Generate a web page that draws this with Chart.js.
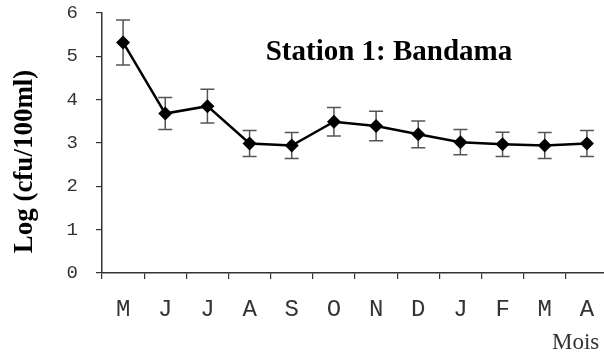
<!DOCTYPE html>
<html>
<head>
<meta charset="utf-8">
<script src="https://cdn.jsdelivr.net/npm/chart.js@4/dist/chart.umd.min.js"></script>
<style>
html,body{margin:0;padding:0;background:#fff;overflow:hidden;}
#wrap{width:608px;height:354px;position:relative;}
</style>
</head>
<body>
<div id="wrap"><canvas id="c"></canvas></div>
<script>
const months = ['M','J','J','A','S','O','N','D','J','F','M','A'];
const means  = [5.32,3.68,3.85,2.99,2.94,3.49,3.39,3.20,3.02,2.97,2.94,2.99];
const errors = [0.52,0.37,0.39,0.30,0.30,0.33,0.34,0.31,0.29,0.28,0.30,0.30];
const yTicks = [0,1,2,3,4,5,6];
const titleText = 'Station 1: Bandama';
const yLabel = 'Log (cfu/100ml)';
const xLabel = 'Mois';

const errorBars = {
  id:'errorBars',
  beforeDatasetsDraw(chart){
    const ctx = chart.ctx, meta = chart.getDatasetMeta(0), y = chart.scales.y;
    ctx.save();
    ctx.strokeStyle = '#555';
    ctx.lineWidth = 1.5;
    meta.data.forEach((pt,i)=>{
      const x = pt.x;
      const yt = y.getPixelForValue(means[i]+errors[i]);
      const yb = y.getPixelForValue(means[i]-errors[i]);
      ctx.beginPath();
      ctx.moveTo(x,yt); ctx.lineTo(x,yb);
      ctx.moveTo(x-7,yt); ctx.lineTo(x+7,yt);
      ctx.moveTo(x-7,yb); ctx.lineTo(x+7,yb);
      ctx.stroke();
    });
    ctx.restore();
  }
};

const texts = {
  id:'texts',
  afterDraw(chart){
    const ctx = chart.ctx;
    ctx.save();
    ctx.fillStyle = '#000';
    ctx.font = 'bold 29px "Liberation Serif"';
    ctx.textAlign = 'center';
    ctx.textBaseline = 'alphabetic';
    ctx.fillText(titleText, 389, 60);
    ctx.save();
    ctx.translate(32,161.5);
    ctx.rotate(-Math.PI/2);
    ctx.font = 'bold 27px "Liberation Serif"';
    ctx.fillText(yLabel,0,0);
    ctx.restore();
    ctx.font = '23px "Liberation Serif"';
    ctx.fillStyle = '#333';
    ctx.textAlign = 'left';
    ctx.fillText(xLabel, 552, 349);
    ctx.restore();
  }
};

new Chart(document.getElementById('c'), {
  type:'line',
  data:{
    labels: months,
    datasets:[{
      data: means,
      borderColor:'#000',
      borderWidth:2.5,
      pointStyle:'rectRot',
      pointRadius:7,
      pointBackgroundColor:'#000',
      pointBorderColor:'#000',
      pointBorderWidth:0,
      tension:0,
      fill:false
    }]
  },
  options:{
    responsive:true,
    maintainAspectRatio:false,
    animation:false,
    devicePixelRatio:1,
    layout:{autoPadding:false,padding:{top:13,right:0,left:0,bottom:0}},
    plugins:{legend:{display:false},tooltip:{enabled:false},title:{display:false}},
    scales:{
      x:{
        offset:true,
        afterFit(s){ s.height = 81; s.paddingLeft = 0; s.paddingRight = 0; },
        grid:{offset:true,drawOnChartArea:false,tickLength:6,color:'#333',lineWidth:1.2},
        border:{color:'#333',width:1.5},
        ticks:{color:'#333',font:{family:'"Liberation Mono"',size:24},padding:16,maxRotation:0,autoSkip:false}
      },
      y:{
        min:0,max:6,
        afterFit(s){ s.width = 102; s.paddingTop = 0; s.paddingBottom = 0; },
        afterBuildTicks(s){ s.ticks = yTicks.map(v=>({value:v})); },
        grid:{drawOnChartArea:false,tickLength:6,color:'#333',lineWidth:1.2},
        border:{color:'#333',width:1.5},
        ticks:{color:'#333',font:{family:'"Liberation Mono"',size:19},padding:18}
      }
    }
  },
  plugins:[errorBars,texts]
});
</script>
</body>
</html>
